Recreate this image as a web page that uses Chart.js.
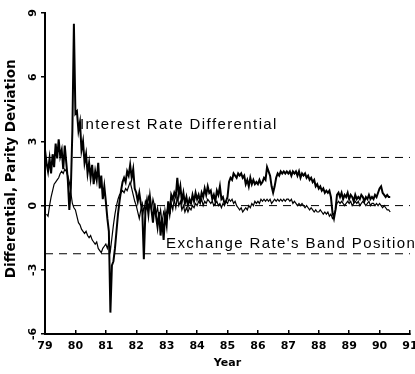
<!DOCTYPE html>
<html>
<head>
<meta charset="utf-8">
<script src="https://cdn.jsdelivr.net/npm/chart.js@4"></script>
<style>
  body { margin: 0; background: #fff; }
  #wrap { width: 415px; height: 374px; }
</style>
</head>
<body>
<div id="wrap"><canvas id="chart"></canvas></div>
<script>
// weekly-ish observations, one value every 0.05 year starting at 79.00
const startYear = 79;
const step = 0.05;

// interest rate differential (thick line)
const interestDiff = [
  2.6, 2.0, 1.6, 2.2, 1.5, 2.4, 1.8, 2.9, 2.2, 3.1, 2.3, 2.6, 1.7, 2.8, 2.0, 1.2, -0.2, 0.8, 3.5, 8.5,
  4.3, 4.4, 3.5, 3.9, 2.6, 3.0, 2.0, 2.4, 1.5, 2.0, 1.3, 1.9, 1.0, 1.6, 1.2, 2.0, 0.8, 1.4, 0.3, 0.9,
  0.2, -0.6, -1.2, -5.0, -2.8, -2.6, -2.0, -1.2, -0.4, 0.2, 0.7, 1.1, 1.3, 1.1, 1.6, 1.4, 1.9, 1.3, 1.7, 0.8,
  0.6, 0.2, 0.6, 0.1, -0.3, -2.5, -0.3, 0.2, -0.4, 0.4, -0.2, -0.8, 0.1, -0.5, -1.0, -0.3, -1.4, -0.6, -1.6, -0.4,
  -0.9, 0.2, -0.4, 0.5, 0.3, 0.6, 0.4, 1.3, 0.5, 0.9, 0.2, 0.6, 0.1, 0.4, 0.0, 0.3, 0.1, 0.5, 0.2, 0.6,
  0.3, 0.5, 0.2, 0.6, 0.4, 0.8, 0.5, 0.9, 0.6, 0.7, 0.3, 0.5, 0.2, 0.7, 0.5, 0.9, 0.3, 0.4, 0.1, 0.2,
  0.4, 1.1, 1.3, 1.2, 1.5, 1.4, 1.3, 1.5, 1.4, 1.5, 1.3, 1.4, 1.0, 1.2, 0.9, 1.3, 1.0, 1.2, 1.0, 1.1,
  1.0, 1.2, 1.0, 1.1, 1.3, 1.2, 1.8, 1.6, 1.4, 0.9, 0.6, 0.9, 1.3, 1.5, 1.4, 1.6, 1.5, 1.6, 1.5, 1.6,
  1.5, 1.6, 1.4, 1.6, 1.5, 1.6, 1.4, 1.6, 1.3, 1.5, 1.4, 1.5, 1.3, 1.4, 1.2, 1.3, 1.1, 1.2, 0.9, 1.0,
  0.8, 0.9, 0.7, 0.8, 0.6, 0.7, 0.6, 0.7, 0.4, -0.3, -0.6, -0.2, 0.5, 0.6, 0.4, 0.6, 0.3, 0.5, 0.4, 0.6,
  0.3, 0.5, 0.4, 0.2, 0.5, 0.3, 0.4, 0.3, 0.5, 0.4, 0.2, 0.4, 0.3, 0.5, 0.3, 0.4, 0.3, 0.5, 0.4, 0.6,
  0.8, 0.9, 0.6, 0.5, 0.4, 0.5, 0.4, 0.4
];

// exchange rate's position in the band (thin line)
const bandPosition = [
  null, -0.4, -0.5, 0.0, 0.4, 0.7, 1.0, 1.1, 1.2, 1.3, 1.5, 1.6, 1.5, 1.7, 1.6, 1.4, 1.1, 0.6, 0.1, -0.1,
  -0.2, -0.5, -0.8, -0.9, -1.1, -1.2, -1.3, -1.2, -1.4, -1.5, -1.4, -1.6, -1.7, -1.8, -1.7, -2.0, -2.1, -2.2, -2.0, -1.9,
  -1.8, -2.0, -1.7, -2.1, -1.5, -0.9, -0.4, 0.0, 0.3, 0.5, 0.6, 0.7, 0.6, 0.8, 0.7, 0.9, 1.1, 0.8, 0.5, 0.2,
  0.0, -0.3, -0.6, -0.2, 0.1, -0.3, 0.2, 0.0, 0.4, 0.1, -0.2, 0.3, 0.0, -0.4, -0.1, -0.6, -0.2, -0.8, -0.3, -0.5,
  -0.3, 0.0, -0.5, 0.1, -0.2, 0.3, -0.1, 0.4, 0.0, 0.2, -0.2, 0.0, -0.3, -0.1, -0.3, -0.1, -0.2, 0.0, -0.1, 0.1,
  0.0, 0.2, 0.1, 0.3, 0.0, 0.2, 0.1, 0.3, 0.2, 0.1, 0.2, 0.0, 0.1, 0.2, 0.0, 0.1, -0.1, 0.1, 0.0, 0.2,
  0.1, 0.3, 0.2, 0.3, 0.1, 0.2, 0.0, -0.1, -0.2, -0.1, -0.3, -0.2, -0.1, -0.2, 0.0, -0.1, 0.1, 0.0, 0.2, 0.1,
  0.2, 0.1, 0.3, 0.2, 0.3, 0.2, 0.3, 0.2, 0.3, 0.1, 0.2, 0.3, 0.2, 0.3, 0.2, 0.3, 0.2, 0.3, 0.2, 0.3,
  0.3, 0.2, 0.3, 0.1, 0.2, 0.1, 0.0, 0.1, 0.0, 0.1, 0.0, -0.1, 0.0, -0.1, -0.2, -0.1, -0.2, -0.3, -0.2, -0.3,
  -0.3, -0.2, -0.3, -0.4, -0.3, -0.4, -0.3, -0.5, -0.4, -0.6, -0.5, -0.2, 0.1, 0.2, 0.1, 0.2, 0.1, 0.0, 0.1, 0.2,
  0.1, 0.2, 0.0, 0.1, 0.2, 0.1, 0.2, 0.0, 0.1, 0.2, 0.1, 0.0, 0.1, 0.2, 0.0, 0.1, 0.1, 0.0, 0.1, 0.0,
  0.1, 0.0, -0.1, 0.0, -0.1, -0.2, -0.2, -0.3
];

// dashed reference levels: band limits and parity
const refLevels = [2.25, 0, -2.25];

const xMin = 79, xMax = 91;
const yMin = -6, yMax = 9, yStep = 3;

const toPoints = arr => arr.map((v, i) => ({ x: startYear + i * step, y: v }));

const refSets = refLevels.map(v => ({
  data: [{ x: xMin, y: v }, { x: xMax, y: v }],
  borderColor: '#000',
  borderWidth: 1,
  borderDash: [8, 6],
  pointRadius: 0
}));

// text labels placed next to the two series
const seriesLabels = {
  id: 'seriesLabels',
  afterDatasetsDraw(chart) {
    const { ctx, scales: { x, y } } = chart;
    ctx.save();
    ctx.fillStyle = '#000';
    ctx.font = '15px "Liberation Sans"';
    ctx.letterSpacing = '1.4px';
    ctx.textBaseline = 'alphabetic';
    ctx.fillText('Interest Rate Differential', x.getPixelForValue(80.15), y.getPixelForValue(3.6));
    ctx.fillText("Exchange Rate's Band Position", x.getPixelForValue(82.98), y.getPixelForValue(-1.96));
    ctx.restore();
  }
};

const axisFont = { family: 'DejaVu Sans', size: 11, weight: 'bold' };

new Chart(document.getElementById('chart'), {
  type: 'line',
  data: {
    datasets: [
      ...refSets,
      {
        label: 'Exchange Rate\'s Band Position',
        data: toPoints(bandPosition),
        borderColor: '#000',
        borderWidth: 1.2,
        pointRadius: 0,
        spanGaps: false
      },
      {
        label: 'Interest Rate Differential',
        data: toPoints(interestDiff),
        borderColor: '#000',
        borderWidth: 2,
        pointRadius: 0
      }
    ]
  },
  options: {
    responsive: true,
    maintainAspectRatio: false,
    animation: false,
    layout: { padding: { top: 13, right: 5, left: 0, bottom: 0 } },
    plugins: {
      legend: { display: false },
      tooltip: { enabled: false }
    },
    scales: {
      x: {
        type: 'linear',
        min: xMin,
        max: xMax,
        grid: { drawOnChartArea: false, color: '#000', tickLength: -4, lineWidth: 1.5 },
        border: { color: '#000', width: 2 },
        ticks: {
          stepSize: 1,
          color: '#000',
          padding: 10,
          maxRotation: 0,
          font: axisFont
        },
        title: {
          display: true,
          text: 'Year',
          color: '#000',
          padding: { top: 0, bottom: 4 },
          font: axisFont
        },
        afterFit(scale) {
          scale.height = 40;
          scale.paddingLeft = 0;
          scale.paddingRight = 0;
        }
      },
      y: {
        type: 'linear',
        min: yMin,
        max: yMax,
        grid: { drawOnChartArea: false, color: '#000', tickLength: 4, lineWidth: 1.5 },
        border: { color: '#000', width: 2 },
        ticks: {
          stepSize: yStep,
          color: '#000',
          padding: 2,
          minRotation: 90,
          maxRotation: 90,
          crossAlign: 'center',
          font: axisFont
        },
        title: {
          display: true,
          text: '  Differential, Parity Deviation',
          color: '#000',
          padding: { top: 3, bottom: 0 },
          font: { family: 'DejaVu Sans', size: 13.5, weight: 'bold' }
        },
        afterFit(scale) {
          scale.width = 45;
          scale.paddingTop = 0;
          scale.paddingBottom = 0;
        }
      }
    }
  },
  plugins: [seriesLabels]
});
</script>
</body>
</html>
